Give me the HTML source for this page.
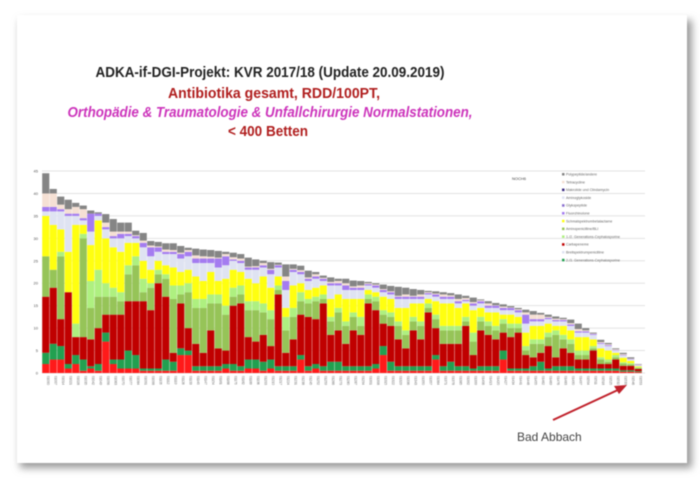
<!DOCTYPE html>
<html><head><meta charset="utf-8"><style>
html,body{margin:0;padding:0;background:#fff;}
body{width:700px;height:480px;overflow:hidden;font-family:"Liberation Sans",Arial,sans-serif;}
#chart{filter:blur(0.45px);}
</style></head><body>
<svg id="chart" width="700" height="480" viewBox="0 0 700 480" xmlns="http://www.w3.org/2000/svg">
<defs><filter id="sh" x="-5%" y="-5%" width="110%" height="110%"><feGaussianBlur stdDeviation="4"/></filter></defs>
<rect x="0" y="0" width="700" height="480" fill="#ffffff"/>
<rect x="20" y="20" width="672" height="448" fill="#9a9a9a" filter="url(#sh)"/>
<rect x="17" y="15" width="670" height="448" fill="#ffffff"/>
<g font-weight="bold" text-anchor="middle">
<text x="270" y="77" font-size="14.5" fill="#222" textLength="349" lengthAdjust="spacingAndGlyphs">ADKA-if-DGI-Projekt: KVR 2017/18 (Update 20.09.2019)</text>
<text x="274" y="98" font-size="14.5" fill="#b01e1e" textLength="212" lengthAdjust="spacingAndGlyphs">Antibiotika gesamt, RDD/100PT,</text>
<text x="270" y="117" font-size="14.5" fill="#cc33bb" font-style="italic" textLength="405" lengthAdjust="spacingAndGlyphs">Orthopädie &amp; Traumatologie &amp; Unfallchirurgie Normalstationen,</text>
<text x="268" y="136" font-size="14.5" fill="#b01e1e" textLength="80" lengthAdjust="spacingAndGlyphs">&lt; 400 Betten</text>
</g>
<g id="grid"></g>
<g id="bars"></g>
<g id="xlabels"></g>
<text x="512" y="180" font-size="4" fill="#444">NOCH6</text>
<g id="legend"></g>
<text x="517" y="441" font-size="12" fill="#444">Bad Abbach</text>
<line x1="553" y1="420" x2="620" y2="389" stroke="#c0202a" stroke-width="2"/>
<polygon points="627,385 614,386 619,394" fill="#c0202a"/>
</svg>
<script>
const yTicks=[0,5,10,15,20,25,30,35,40,45];
const seriesNames=["2./3. Generations-Cephalosporine","Breitspektrumpenicilline","Carbapeneme","1./2. Generations-Cephalosporine","Aminopenicilline/BLI","Schmalspektrumbetalactame","Fluorchinolone","Glykopeptide","Aminoglykoside","Makrolide und Clindamycin","Tetracycline","Polypeptide/andere"];
const red=[2,3,3,1,2,0.5,1,0.5,7,2, 1,1,1,0.5,0.5,0.5,0.5,0.5,4,4, 0.5,0.5,0.5,0.5,1,0.5,0.5,1,1,0.5, 1,0.5,0.5,0.5,3,0.5,1,0.5,0.5,0.5, 0.5,0.5,0.5,0.5,1,4,0.5,0.5,0.5,0.5, 0.5,0.5,3,0.5,0.5,0.5,0.5,0.5,0.5,0.5, 0.5,3,0.5,0.5,0.5,0.5,0.5,0.5,0.5,0.5, 0.5,0.5,0.5,0.5,0.5,0.5,0.5,0.3,0.3,0.2];
const dgreen=[2.5,3.5,3,1,2,2.5,0.5,1.5,2,1, 2,4,3,0.5,0.5,0.5,2.5,2,1.5,1, 1,1,1,1,1,1.5,1,2,2,2, 2,1,1,1,1,1,1,1,2,2, 1,1,1,1,1,2,2,1,1,1, 1,1,1,1,2,1,1,0.5,1,1, 1,2,0.5,0.5,0.5,1,2,0.5,1,1, 1,0.5,0.5,0.5,0.5,0.5,0.5,0.3,0.3,0.2];
const dred=[12.5,12.5,6,16,4,5,6,8,4,10, 10,11,12,15,13,19,14,2,10,5, 5,3,8,4,3,13,14,5,4,6, 3,16,3,6,9,11,10,14,6,7, 5,8,7,14,12,5,8,6,4,8, 6,12,6,5,4,5,9,3,8,7, 6,4,7,8,3,2,2,5,2,4, 3,2,2,4,1,1,2,1,1,0.5];
const olive=[9,4,14,0,0,22,7,7,4,4, 3,6,8,2,5,2,4,12,2,8, 8,10,6,10,8,2,2,6,7,5, 6,1,5,5,3,3,4,1,3,4, 4,3,2,1,2,2,2,3,3,2, 3,1,2,3,3,3,1,3,2,2, 2,2,2,1,1,3,2,2,5,2, 2,1,1,0.5,1,0.5,0.5,0.5,0.3,0.2];
const lgreen=[0,0,1,0,3,1,6,6,3,2, 2,2,2,3,1,1,1,3,2,2, 2,2,2,2,2,2,2,2,2,2, 2,1,3,2,2,1,1,1,1,1, 1,1,2,1,1,1,1,1,1,1, 1,1,1,1,1,1,1,2,1,1, 1,1,1,1,1,1,1,1,1,1, 1,1,1,0.5,0.5,0.5,0.5,0.3,0.3,0.2];
const yellow=[9,10,5,9,22,2,8,11,10,9, 9,5,3,4,3,2,2,4,3,3, 5,4,5,3,6,4,3,5,4,6, 5,2,2,5,2,2,2,2,4,3, 5,3,4,1,1,3,3,3,5,3, 4,1,3,5,5,4,3,5,2,2, 3,1,2,1.5,3,3,3,2,1,2, 2,3,3,1.5,2,2,0.5,1,0.5,0.2];
const lblue=[1,3,4,8,2,1,3,1,2,2, 3,1.5,1,3,3,2,2.5,3,3,3, 3,4,2,3,3,2,2,2,3,2, 3,2,4,3,2,2,2,1,3,2, 2,2,2,1,1,1,1,2,2,1, 1,1,1,1,1,1,0.5,1,1,1, 1,1,1,1,2,1,1,1,1,1, 1,1,1,1,1,1,0.5,0.5,0.3,0.2];
const purple=[1,1,0.5,0.5,0.5,0.5,4,0.5,0.5,0.5, 1,0.5,0.5,1,2,1,0.5,0.5,1,1, 1,1,1,2,2,0.3,0.5,0.5,0.5,0.5, 1,0.5,2,0.5,0.5,0.5,0.5,0.5,0.5,0.5, 1,0.5,0.5,0.3,0.5,0.5,0.5,0.5,0.5,0.5, 0.5,0.3,0.5,0.5,0.5,0.5,0.3,0.5,0.5,0.5, 0.5,0.5,0.5,0.5,2,0.5,0.5,0.3,0.3,0.3, 0.3,0.3,0.3,0.2,0.2,0.2,0.1,0.1,0.1,0.1];
const beige=[3,3,1,1,1.5,2,0,0,1,1, 0.5,0.5,0.2,0.5,0.4,0.2,0.5,0.4,0.3,0.4, 0.7,0.5,0.4,0.2,0.5,0.5,0.5,0.2,0.3,0.5, 0.2,0.1,1,0.2,0.4,0.3,0.5,0.2,0.3,0.5, 0.5,0.3,0.5,0.2,0.2,0.2,0.2,0.2,0.5,0.2, 0.5,0.2,0.2,0.5,0.3,0.5,0.4,0.3,0.2,0.5, 0.1,0.3,0.1,0.2,0.5,1,1,0.2,0.3,0.2, 0.3,0.5,0.2,0.1,0.2,0.2,0.2,0.2,0.1,0.1];
const gray=[4.5,1,1.8,2.1,0.9,0.8,0.7,0.3,1.9,2.8, 2,2,1,1.7,1,1,1.4,1.5,1.5,0.5, 1.5,1.5,1.5,1.5,0.5,1,1,2,1.5,0.5, 1.5,0.5,2.7,1,1,1.5,0.5,0.5,1,0.5, 1,1.3,1,0.3,0.3,1,1.2,2,1.5,1.5, 1,0.3,0.5,0.5,0.5,1,0.5,1,0.2,0.5, 0.5,0.5,0.3,0.3,0.6,0.8,0.4,0.5,0.5,0.3, 0.8,1.2,0.5,0.2,0.5,0.3,0.2,0.3,0.3,0.1];

const NS="http://www.w3.org/2000/svg";
const X0=42,X1=642,Y0=373,YMAX=45,YTOP=171;
const stack=[red,dgreen,dred,olive,lgreen,yellow,lblue,purple,beige,gray];
const stackNames=["red-seg","darkgreen-seg","darkred-seg","olive-seg","lightgreen-seg","yellow-seg","lightblue-seg","purple-seg","beige-seg","gray-seg"];
const colors=["#ff1a1a","#22a050","#c00000","#96c458","#aef080","#ffff10","#dfe3f2","#a47cf0","#f5e0d4","#858585"];
const n=red.length;
const bw=(X1-X0)/n;
function y(v){return Y0-(v/YMAX)*(Y0-YTOP);}
function x(i){return X0+i*bw;}
function mk(t,a){const e=document.createElementNS(NS,t);for(const k in a)e.setAttribute(k,a[k]);return e;}
const grid=document.getElementById('grid');
yTicks.forEach(t=>{
  const l=mk('line',{x1:X0,x2:X1+3,y1:y(t),y2:y(t),stroke:'#e2e2e2','stroke-width':1});
  
  
  grid.appendChild(l);
  const tx=mk('text',{x:X0-4,y:y(t)+1.5,'font-size':4,'text-anchor':'end',fill:'#555'});
  
  
  tx.textContent=t;grid.appendChild(tx);
});
const bars=document.getElementById('bars');
for(let i=0;i<n;i++){
  let acc=0;
  const g=mk('g',{});
  
  
  stack.forEach((s,k)=>{
    const v=s[i];if(!v){return;}
    const r=mk('rect',{x:x(i)+0.2,y:y(acc+v),width:bw-0.4,height:y(acc)-y(acc+v),fill:colors[k]});
    
    
    g.appendChild(r);acc+=v;
  });
  bars.appendChild(g);
}
const xl=document.getElementById('xlabels');
for(let i=0;i<n;i++){
  const t=mk('text',{x:0,y:0,'font-size':3.2,fill:'#666',transform:'translate('+(x(i)+bw/2+1)+','+(Y0+3)+') rotate(90)'});
  
  
  t.textContent='0'+(1000+i*7);
  xl.appendChild(t);
}
const leg=document.getElementById('legend');
const legColors=["#858585","#f5e0d4","#3a2a80","#dfe3f2","#8a6fd0","#a47cf0","#ffff10","#96c458","#aef080","#c00000","#dfe3f2","#22a050","#ff1a1a"];
seriesNames.slice().reverse().forEach((nm,k)=>{
  const yy=175+k*7.8;
  const sw=mk('rect',{x:562,y:yy-2,width:2.5,height:2.5,fill:legColors[k]});
  
  
  leg.appendChild(sw);
  const t=mk('text',{x:566,y:yy+0.5,'font-size':3.6,fill:'#666'});
  
  
  t.textContent=nm;leg.appendChild(t);
});
</script>
</body></html>
